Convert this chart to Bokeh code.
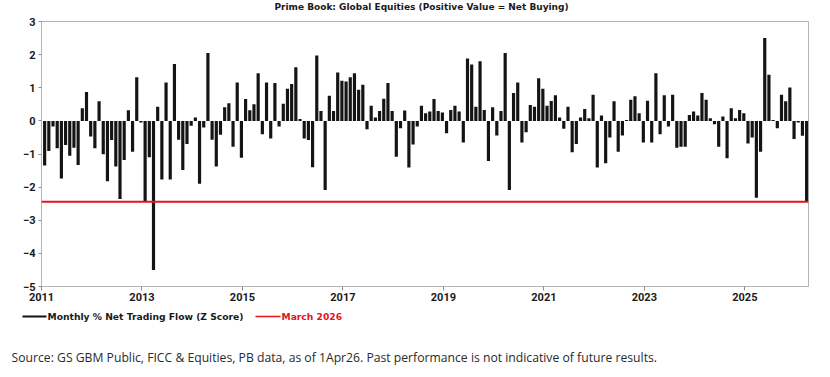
from bokeh.plotting import figure
from bokeh.models import Range1d, FixedTicker, Span, ColumnDataSource
from bokeh.layouts import column
from bokeh.embed import file_html
from bokeh.resources import INLINE
from bokeh.core.properties import value

# ---------------- data ----------------
start_year = 2011  # first month: Jan 2011, monthly through Mar 2026
z_scores = [
    -1.35, -0.91, -0.17, -0.83, -1.74, -0.73, -1.05, -0.81, -1.33, 0.38, 0.87, -0.47,
    -0.83, 0.59, -1.01, -1.82, -0.58, -1.38, -2.36, -1.18, 0.32, -0.93, 1.32, -0.05,
    -2.42, -1.10, -4.50, 0.43, -1.77, 1.16, -1.77, 1.72, -0.57, -1.48, -0.70, -0.15,
    0.10, -1.90, -0.20, 2.05, -0.57, -1.38, -0.42, 0.41, 0.53, -0.78, 1.16, -1.11,
    0.66, 0.32, 0.50, 1.44, -0.40, 1.16, -0.53, 1.14, -0.17, 0.52, 0.97, 1.11,
    1.62, 0.06, -0.53, -0.58, -1.40, 1.97, 0.30, -2.09, 0.76, 0.30, 1.46, 1.21,
    1.19, 1.32, 1.44, 0.94, 1.09, -0.25, 0.46, 0.10, 0.30, 0.67, 1.14, 0.30,
    -1.08, -0.22, 0.31, -1.41, -0.71, -0.17, 0.46, 0.23, 0.28, 0.66, 0.30, 0.25,
    -0.37, 0.33, 0.46, 0.28, -0.65, 1.88, 1.70, 0.43, 1.80, 0.33, -1.21, 0.41,
    -0.44, 0.30, 2.05, -2.09, 0.84, 1.16, -0.65, -0.34, 0.48, 0.43, 1.29, 0.97,
    0.46, 0.60, 0.77, 0.10, -0.24, 0.43, -0.95, -0.70, 0.10, 0.36, 0.08, 0.79,
    -1.41, 0.16, -1.28, -0.50, 0.59, -0.93, -0.44, 0.03, 0.64, 0.74, 0.23, -0.65,
    0.61, -0.65, 1.44, -0.40, 0.77, -0.17, 0.79, -0.81, -0.78, -0.78, 0.18, 0.28,
    0.16, 0.84, 0.64, 0.08, -0.10, -0.78, 0.13, -1.13, 0.38, 0.08, 0.33, 0.23,
    -0.68, -0.50, -2.32, -0.93, 2.50, 1.39, 0.03, -0.22, 0.79, 0.59, 1.01, -0.55,
    -0.05, -0.45, -2.44,
]
tick_years = [2011, 2013, 2015, 2017, 2019, 2021, 2023, 2025]
y_ticks = [-5, -4, -3, -2, -1, 0, 1, 2, 3]
title_text = "Prime Book: Global Equities (Positive Value = Net Buying)"
series_label = "Monthly % Net Trading Flow (Z Score)"
marker_label = "March 2026"
source_text = ("Source: GS GBM Public, FICC & Equities, PB data, as of 1Apr26. "
               "Past performance is not indicative of future results.")

months = list(range(len(z_scores)))
x_pos = [start_year + (m + 0.75) / 12 for m in months]
src = ColumnDataSource(dict(x=x_pos, z=z_scores))

BAR = "#141414"
RED = "#e3141f"
FRAME = "#b4b4b4"
HEAD_FONT = "DejaVu Sans"
TICK_FONT = "Roboto"


def strip(height):
    s = figure(width=830, height=height, x_range=Range1d(0, 830),
               y_range=Range1d(height, 0), x_axis_type=None, y_axis_type=None,
               output_backend="svg", toolbar_location=None,
               min_border=0, min_border_left=0, min_border_right=0,
               min_border_top=0, min_border_bottom=0)
    s.frame_align = False
    s.grid.visible = False
    s.outline_line_color = None
    s.background_fill_color = "white"
    s.border_fill_color = "white"
    return s


# ---------------- title strip ----------------
t = strip(14)
t.text(x=[421], y=[6], text=[title_text], text_align="center", text_baseline="middle",
       text_font=value(HEAD_FONT), text_font_style="bold",
       text_font_size="9px", text_color="#1a1a1a")

# ---------------- main chart ----------------
p = figure(width=830, height=294,
           x_range=Range1d(start_year, start_year + 183.2 / 12),
           y_range=Range1d(y_ticks[0], y_ticks[-1]),
           output_backend="svg", toolbar_location=None,
           min_border_left=41, min_border_right=22,
           min_border_top=7, min_border_bottom=22)
p.frame_align = False

p.vbar(x="x", top="z", bottom=0, width=0.76 / 12, source=src,
       fill_color=BAR, line_color=None)
p.add_layout(Span(location=z_scores[-1], dimension="width",
                  line_color=RED, line_width=2))

p.xgrid.visible = False
p.ygrid.visible = False
p.outline_line_color = FRAME
p.outline_line_width = 1
p.background_fill_color = "white"
p.border_fill_color = "white"

for ax in (p.xaxis[0], p.yaxis[0]):
    ax.axis_line_color = FRAME
    ax.major_tick_line_color = "#8c8c8c"
    ax.minor_tick_line_color = None
    ax.major_tick_in = 0
    ax.major_label_text_font = TICK_FONT
    ax.major_label_text_font_style = "bold"
    ax.major_label_text_font_size = "11px"
    ax.major_label_text_color = "#1a1a1a"

p.xaxis.ticker = FixedTicker(ticks=tick_years)
p.xaxis.major_label_overrides = {t_: str(t_) for t_ in tick_years}
p.xaxis.major_tick_out = 4
p.xaxis.major_label_standoff = 2
p.yaxis.ticker = FixedTicker(ticks=y_ticks)
p.yaxis.major_tick_out = 3
p.yaxis.major_label_standoff = 3

# ---------------- legend + source strip ----------------
q = strip(69)
q.segment(x0=[22], y0=[8], x1=[46], y1=[8], line_color=BAR, line_width=2)
q.segment(x0=[255], y0=[8], x1=[280], y1=[8], line_color=RED, line_width=1.5)
q.text(x=[47], y=[8], text=[series_label], text_baseline="middle",
       text_font=value(HEAD_FONT), text_font_style="bold",
       text_font_size="9.2px", text_color="#1a1a1a")
q.text(x=[281], y=[8], text=[marker_label], text_baseline="middle",
       text_font=value(HEAD_FONT), text_font_style="bold",
       text_font_size="9.2px", text_color=RED)
q.text(x=[11], y=[49], text=[source_text], text_baseline="middle",
       text_font=value("Open Sans"), text_font_size="12.2px", text_color="#2a2a2a")

layout = column(t, p, q, spacing=0)
open("out.html", "w").write(file_html(layout, INLINE))
